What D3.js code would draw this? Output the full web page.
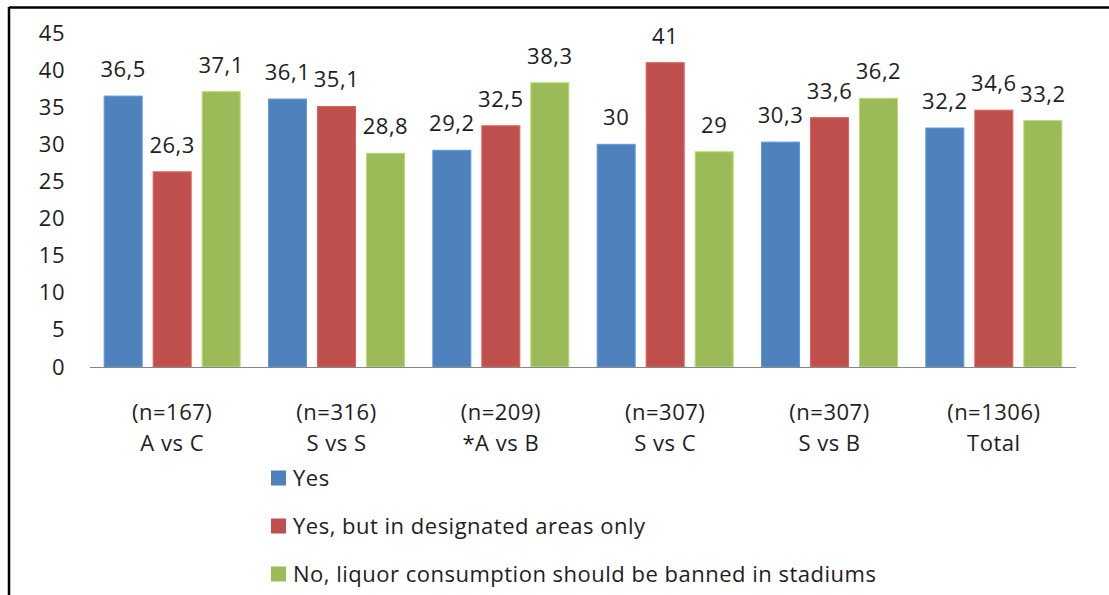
<!DOCTYPE html>
<html>
<head>
<meta charset="utf-8">
<script src="https://cdn.jsdelivr.net/npm/d3@7"></script>
<style>
    body { margin: 0; background: #fff; }
    svg text { font-family: 'Open Sans', Lato, sans-serif; fill: #1e1e1e; letter-spacing: 0.5px; }
</style>
</head>
<body>
<svg id="chart"></svg>
<script>
const groups = ['(n=167)|A vs C', '(n=316)|S vs S', '(n=209)|*A vs B', '(n=307)|S vs C', '(n=307)|S vs B', '(n=1306)|Total'];
const seriesNames = ['Yes', 'Yes, but in designated areas only', 'No, liquor consumption should be banned in stadiums'];
const seriesColors = ['#4F81BD', '#C0504D', '#9BBB59'];
const yesValues = [36.5, 36.1, 29.2, 30, 30.3, 32.2];
const designatedValues = [26.3, 35.1, 32.5, 41, 33.6, 34.6];
const bannedValues = [37.1, 28.8, 38.3, 29, 36.2, 33.2];
const yTicks = [0, 5, 10, 15, 20, 25, 30, 35, 40, 45];

const width = 1109, height = 595;
const marginLeft = 90, plotRight = 1076, plotTop = 33, plotBottom = 367;
const fontSize = 22;

const seriesValues = [yesValues, designatedValues, bannedValues];
const fmt = v => String(v).replace('.', ',');

const svg = d3.select('#chart').attr('width', width).attr('height', height);

// Outer frame (left and top edges show in the crop).
svg.append('line').attr('x1', 9).attr('x2', 9).attr('y1', 7).attr('y2', height).attr('stroke', '#000').attr('stroke-width', 2.5);
svg.append('line').attr('x1', 9).attr('x2', width).attr('y1', 7.5).attr('y2', 7.5).attr('stroke', '#000').attr('stroke-width', 2.5);

// Scales.
const x = d3.scaleBand().domain(groups).range([marginLeft, plotRight]).padding(0);
const xs = d3.scaleBand().domain(d3.range(3)).range([0, x.bandwidth()]).paddingInner(0.224).paddingOuter(0.289);
const y = d3.scaleLinear().domain([0, 45]).range([plotBottom, plotTop]);

// Y tick labels (no axis line).
const yAxis = svg.append('g')
    .attr('transform', `translate(${marginLeft}, 0)`)
    .call(d3.axisLeft(y).tickValues(yTicks).tickSize(0).tickPadding(25));
yAxis.select('.domain').remove();
yAxis.selectAll('text').attr('font-size', fontSize).attr('font-family', null).attr('fill', '#1e1e1e');

// Bars.
const bars = svg.append('g');
seriesValues.forEach((vals, s) => {
    bars.selectAll(null)
        .data(groups)
        .enter()
        .append('rect')
        .attr('x', g => x(g) + xs(s))
        .attr('y', (g, i) => y(vals[i]))
        .attr('width', xs.bandwidth())
        .attr('height', (g, i) => y(0) - y(vals[i]))
        .attr('fill', seriesColors[s])
        .attr('stroke', d3.color(seriesColors[s]).brighter(0.5))
        .attr('stroke-width', 1);

    bars.selectAll(null)
        .data(groups)
        .enter()
        .append('text')
        .attr('x', g => x(g) + xs(s) + xs.bandwidth() / 2)
        .attr('y', (g, i) => y(vals[i]) - 19)
        .attr('text-anchor', 'middle')
        .attr('font-size', fontSize)
        .text((g, i) => fmt(vals[i]));
});

// Baseline.
svg.append('line')
    .attr('x1', marginLeft).attr('x2', plotRight)
    .attr('y1', y(0) + 0.5).attr('y2', y(0) + 0.5)
    .attr('stroke', '#868686').attr('stroke-width', 1);

// Category labels, two lines each.
const cats = svg.append('g').selectAll('text')
    .data(groups)
    .enter()
    .append('text')
    .attr('text-anchor', 'middle')
    .attr('font-size', fontSize);
cats.append('tspan').attr('x', g => x(g) + x.bandwidth() / 2).attr('y', 420).text(g => g.split('|')[0]);
cats.append('tspan').attr('x', g => x(g) + x.bandwidth() / 2).attr('y', 451).text(g => g.split('|')[1]);

// Legend.
const legend = svg.append('g').selectAll('g')
    .data(seriesNames)
    .enter()
    .append('g')
    .attr('transform', (d, i) => `translate(271, ${478 + i * 48})`);
legend.append('rect').attr('x', 0).attr('y', -7.5).attr('width', 15).attr('height', 15).attr('fill', (d, i) => seriesColors[i]);
legend.append('text').attr('x', 22).attr('y', 8).attr('font-size', fontSize).text(d => d);
</script>
</body>
</html>
